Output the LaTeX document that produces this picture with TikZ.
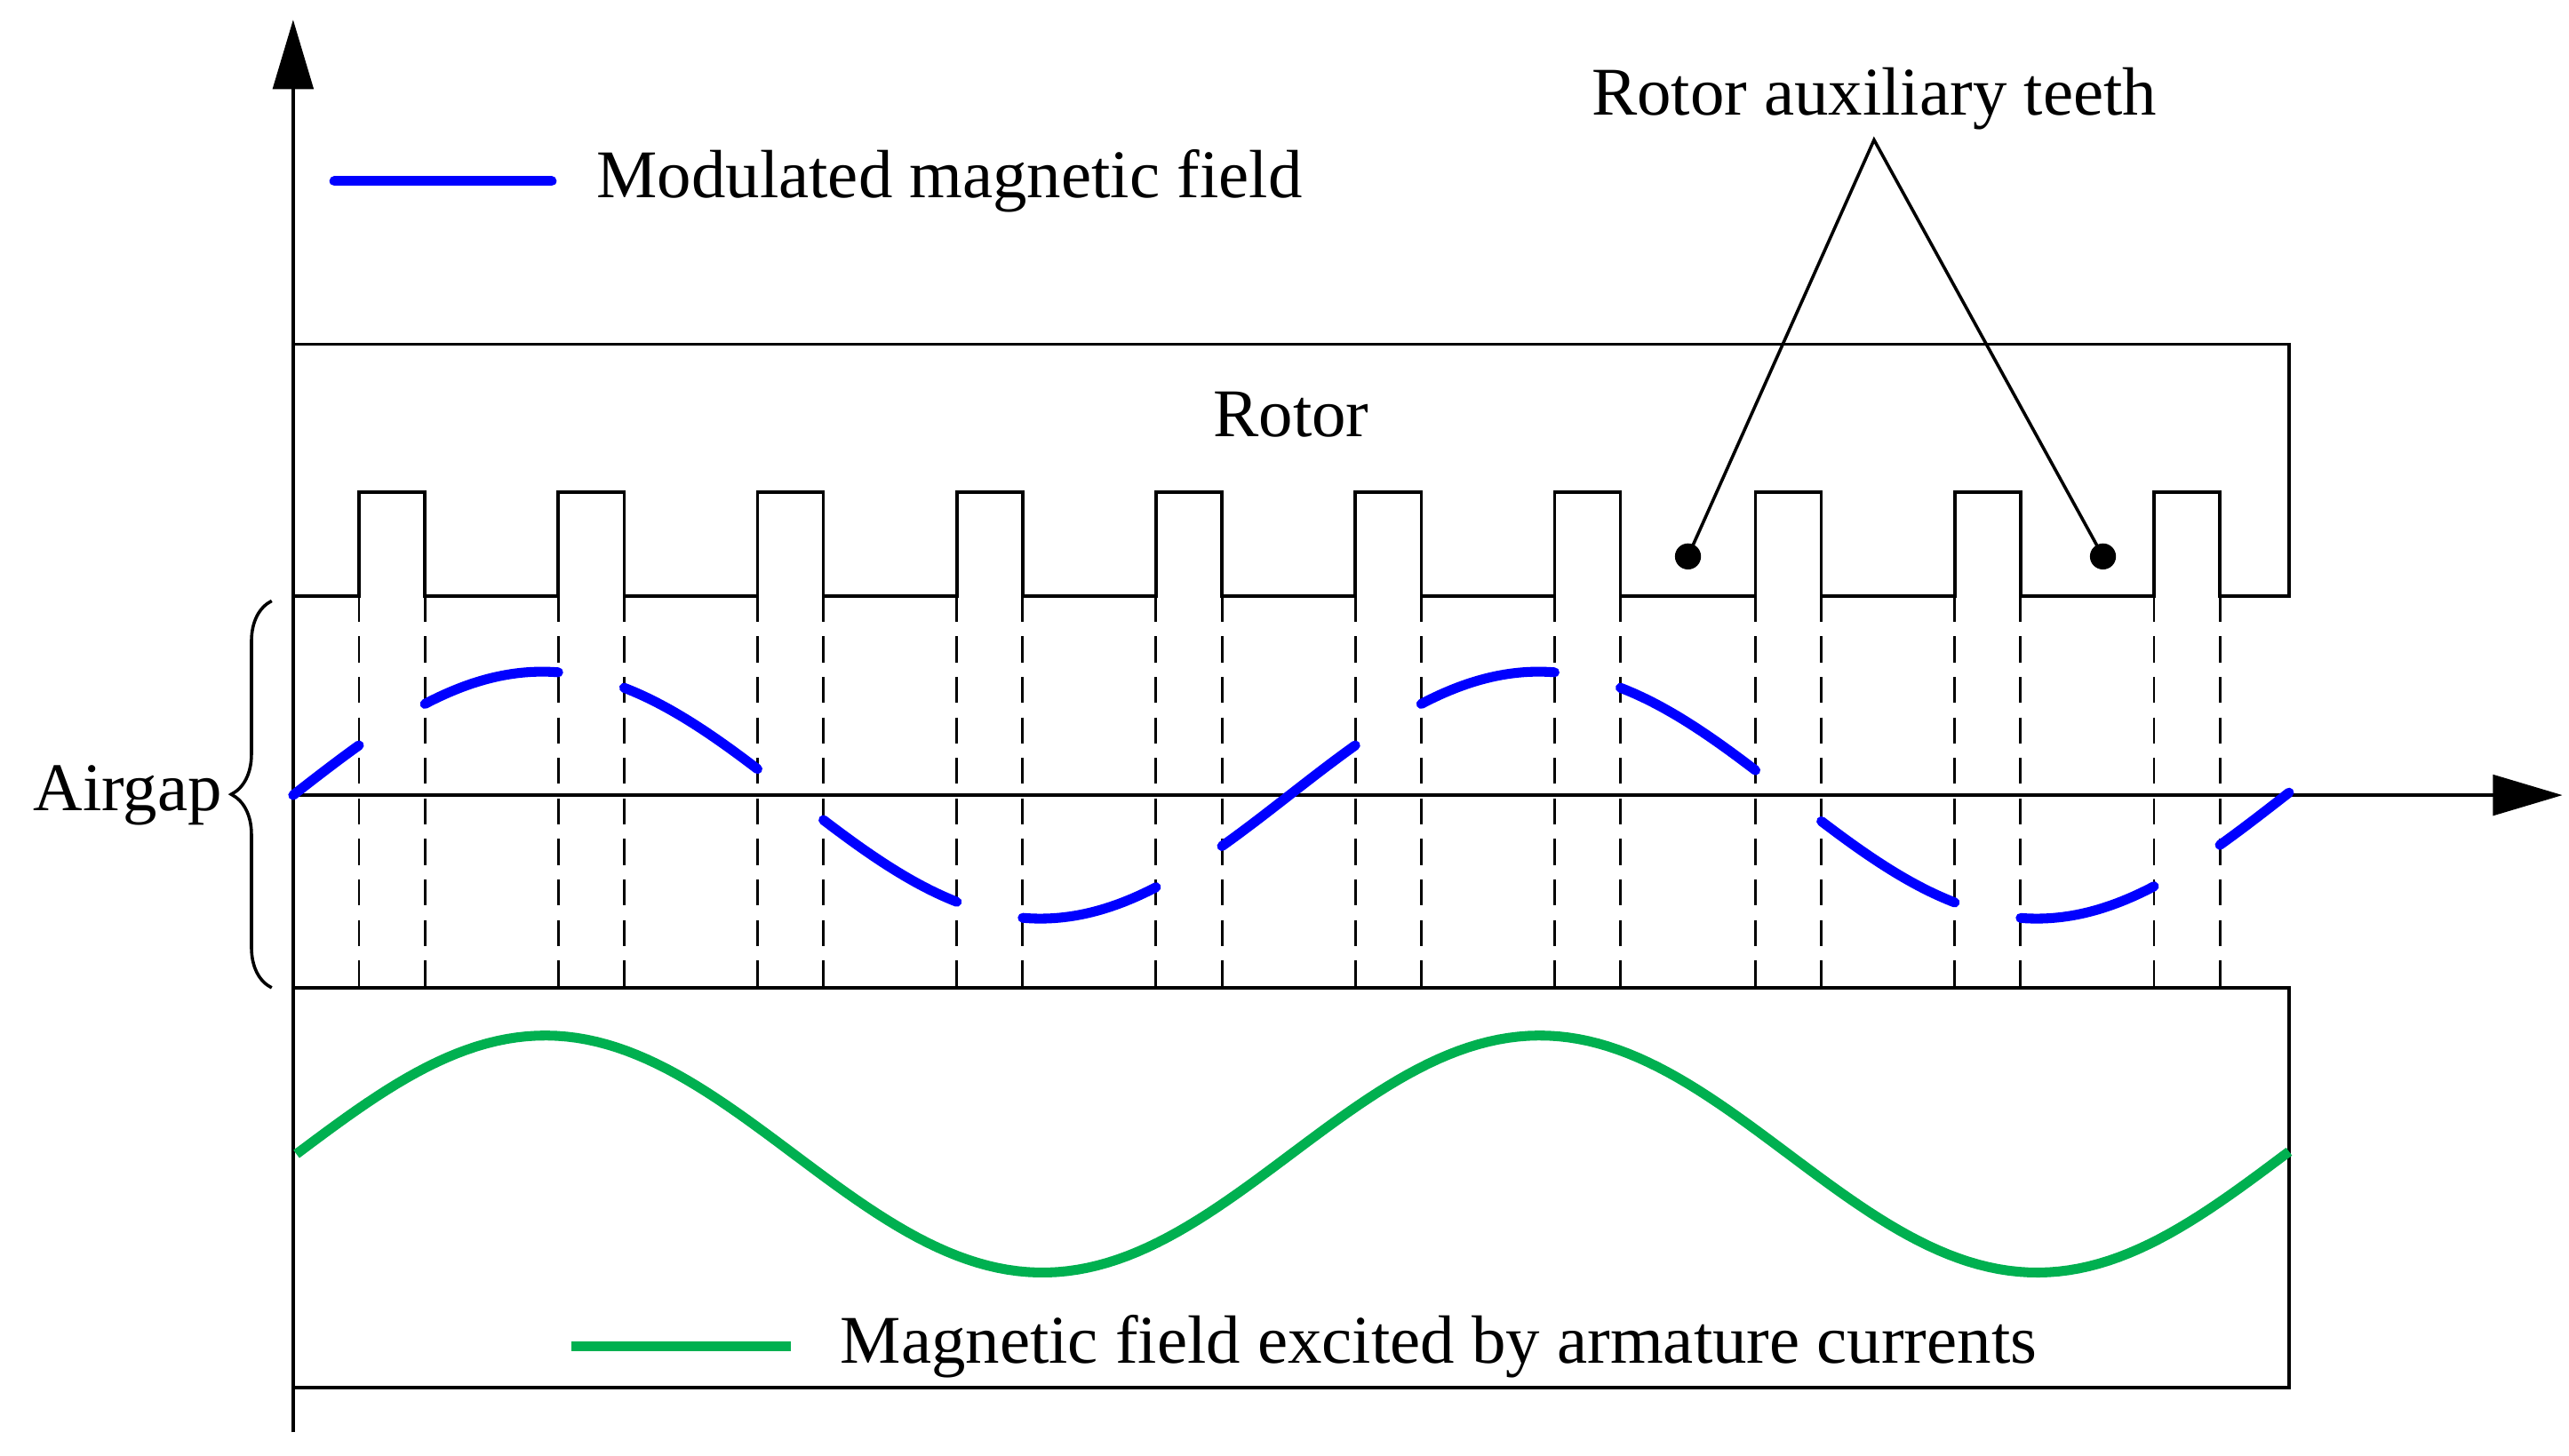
\documentclass[tikz,border=0pt]{standalone}
\usepackage{fontspec}
\setmainfont{Liberation Serif}
\usetikzlibrary{decorations.pathreplacing,arrows.meta}
\definecolor{fgreen}{RGB}{0,176,80}
\begin{document}
\begin{tikzpicture}[x=0.02cm,y=-0.02cm,
  blk/.style={line width=1.1pt,black},
  blue field/.style={line width=3.4pt,blue,line cap=round},
  green field/.style={line width=3.4pt,fgreen},
  lbl/.style={font=\fontsize{23.6}{28}\selectfont,inner sep=0pt}]
\useasboundingbox (0,0) rectangle (1560,884);
% axes
\coordinate (o) at (178,870);
\coordinate (ytop) at (178,12);
\coordinate (x0) at (178,483);
\coordinate (xend) at (1556,483);
\draw[blk,-{Triangle[length=24pt,width=14pt]}] (o) -- (ytop);
\draw[blk,-{Triangle[length=24pt,width=14pt]}] (x0) -- (xend);
% rotor
\draw[blk] (178,209) -- (1390,209) -- (1390,362) -- (1348,362)
  \foreach \a in {1308,1187,1066,944,823,702,581,460,339,218}{
    -- (\a+40,362) -- (\a+40,299) -- (\a,299) -- (\a,362)} -- (178,362);
% dashed lines
\foreach \a in {218,339,460,581,702,823,944,1066,1187,1308}{
  \draw[blk,dash pattern=on 9pt off 5pt,line width=0.9pt] (\a,362) -- (\a,600);
  \draw[blk,dash pattern=on 9pt off 5pt,line width=0.9pt] (\a+40,362) -- (\a+40,600);}
% stator
\draw[blk] (178,600) -- (1390,600) -- (1390,843) -- (178,843);
% blue modulated field
\foreach \s/\e in {178/218,258/339,379/460,500/581,621/702,742/823,863/944,984/1066,1106/1187,1227/1308,1348/1390}{
  \draw[blue field] plot[domain=\s:\e,samples=30,variable=\t] (\t,{483-75*sin((\t-178)/605*360)});}
% green field
\draw[green field] plot[domain=180:1390,samples=200,variable=\t] (\t,{701-72*sin((\t-180)/604*360)});
% legends
\coordinate (lb1) at (203,110); \coordinate (lb2) at (335,110);
\draw[blue field] (lb1) -- (lb2);
\node[lbl,anchor=west] (tmod) at (362,110) {Modulated magnetic field};
\coordinate (lg1) at (347,818); \coordinate (lg2) at (480,818);
\draw[green field] (lg1) -- (lg2);
\node[lbl,anchor=west] (tarm) at (510,818) {Magnetic field excited by armature currents};
\node[lbl] (trotor) at (784,252) {Rotor};
\node[lbl] (taux) at (1138,60) {Rotor auxiliary teeth};
\coordinate (apex) at (1138,85);
\fill (1025,338) circle (4.5pt) coordinate (d1);
\fill (1277,338) circle (4.5pt) coordinate (d2);
\draw[blk] (d1) -- (apex) -- (d2);
% airgap
\draw[blk,decorate,decoration={brace,amplitude=14pt}] (165,600) -- (165,365);
\node[lbl,anchor=east] (tair) at (135,483) {Airgap};
\end{tikzpicture}
\end{document}
